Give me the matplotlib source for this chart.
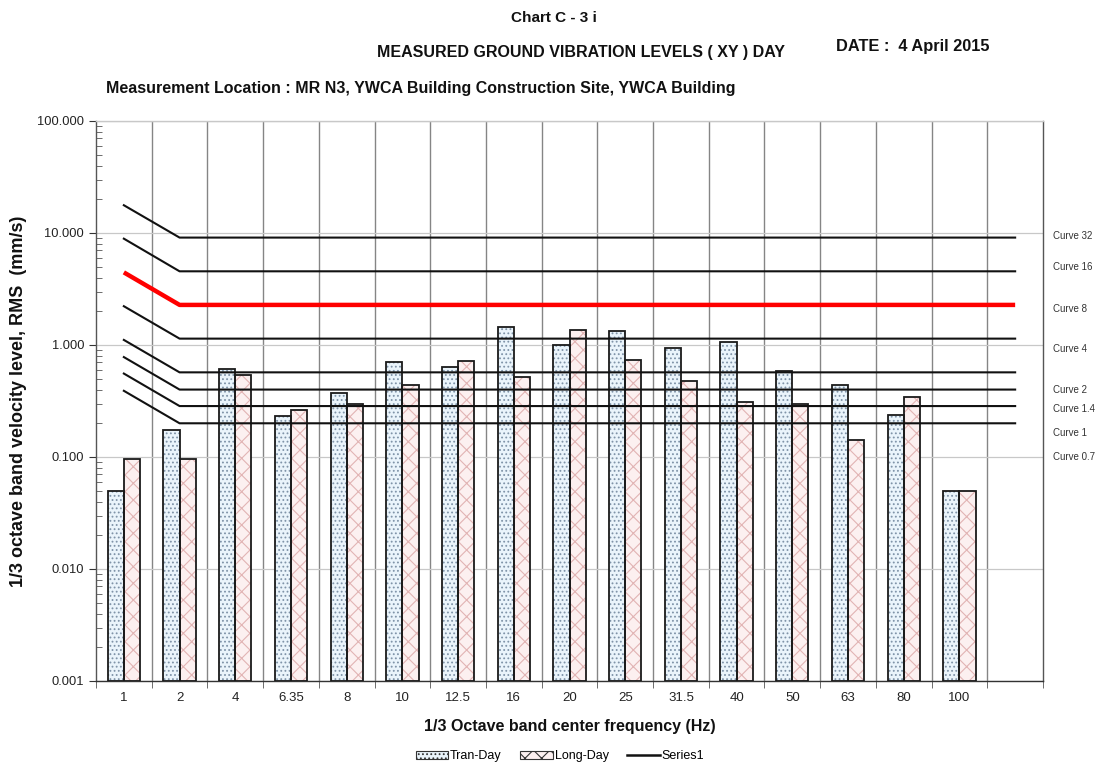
import numpy as np
import matplotlib
matplotlib.use("Agg")
import matplotlib.pyplot as plt
from matplotlib.patches import Patch
from matplotlib.lines import Line2D
from matplotlib.ticker import LogLocator, FixedLocator, NullFormatter, FuncFormatter

plt.rcParams['font.family'] = ['Liberation Sans', 'DejaVu Sans']

# ---------------- data ----------------
categories = ["1", "2", "4", "6.35", "8", "10", "12.5", "16", "20", "25",
              "31.5", "40", "50", "63", "80", "100", ""]
tran_day = [0.050, 0.173, 0.607, 0.234, 0.373, 0.705, 0.637, 1.46, 0.99, 1.33,
            0.94, 1.07, 0.59, 0.437, 0.236, 0.050]
long_day = [0.095, 0.095, 0.536, 0.265, 0.299, 0.437, 0.72, 0.52, 1.35, 0.73,
            0.474, 0.312, 0.30, 0.141, 0.346, 0.050]

curve_names = ["Curve 32", "Curve 16", "Curve 8", "Curve 4", "Curve 2",
               "Curve 1.4", "Curve 1", "Curve 0.7"]
curve_start = [17.7, 8.9, 4.45, 2.22, 1.11, 0.78, 0.556, 0.39]   # at 1 Hz
curve_flat = [9.1, 4.55, 2.28, 1.14, 0.57, 0.40, 0.285, 0.20]    # 2 Hz and above
curve_x = [0, 1, 16]
curve_label_y = [9.4, 4.97, 2.1, 0.92, 0.40, 0.268, 0.164, 0.100]

y_ticks = [0.001, 0.01, 0.1, 1, 10, 100]

# ---------------- figure ----------------
fig = plt.figure(figsize=(11.02, 7.65), dpi=100)
ax = fig.add_axes([96/1102, 1-681/765, (1043-96)/1102, (681-121)/765])
ax.set_yscale('log')
ax.set_ylim(0.001, 100)
ax.set_xlim(-0.5, len(categories)-0.5)

x = np.arange(len(tran_day))
w = 0.29
bottom = 0.001
tran = np.array(tran_day)
lng = np.array(long_day)

blue_fill = '#eaf4fb'
blue_hatch = '#7f93a8'
pink_fill = '#fcf0f0'
pink_hatch = '#e2b4b4'

# gridlines
for b in np.arange(0.5, len(categories)-1, 1.0):
    ax.axvline(b, color='#858585', lw=1.0, zorder=0.5)
for yt in y_ticks:
    ax.axhline(yt, color='#c8c8c8', lw=0.9, zorder=0.5)

plt.rcParams['hatch.linewidth'] = 0.8
ax.bar(x - w/2, tran - bottom, bottom=bottom, width=w, color=blue_fill,
       edgecolor=blue_hatch, hatch='....', lw=0, zorder=2)
ax.bar(x - w/2, tran - bottom, bottom=bottom, width=w, facecolor='none',
       edgecolor='#1a1a1a', lw=1.3, zorder=3)
ax.bar(x + w/2, lng - bottom, bottom=bottom, width=w, color=pink_fill,
       edgecolor=pink_hatch, hatch='xx', lw=0, zorder=2)
ax.bar(x + w/2, lng - bottom, bottom=bottom, width=w, facecolor='none',
       edgecolor='#1a1a1a', lw=1.3, zorder=3)

# criteria curves
for name, s, f in zip(curve_names, curve_start, curve_flat):
    if name == "Curve 8":
        ax.plot(curve_x, [s, f, f], color='#ff0000', lw=3.2, zorder=4,
                solid_capstyle='butt')
    else:
        ax.plot(curve_x, [s, f, f], color='#111111', lw=1.5, zorder=4)

for name, ly in zip(curve_names, curve_label_y):
    ax.text(1.0105, ly, name, transform=ax.get_yaxis_transform(),
            fontsize=7, color='#333333', va='center', ha='left')

# axes styling
ax.set_yticks(y_ticks)
ax.yaxis.set_major_formatter(FuncFormatter(lambda v, p: f"{v:.3f}"))
ax.yaxis.set_minor_locator(LogLocator(base=10, subs=np.arange(2, 10)))
ax.yaxis.set_minor_formatter(NullFormatter())
ax.tick_params(axis='y', which='major', direction='out', length=5,
               labelsize=9.3, colors='#333333', labelcolor='#222222')
ax.tick_params(axis='y', which='minor', direction='in', length=4,
               color='#555555')

ax.set_xticks(np.arange(len(categories)))
ax.set_xticklabels(categories)
ax.xaxis.set_minor_locator(FixedLocator(np.arange(-0.5, len(categories), 1.0)))
ax.tick_params(axis='x', which='major', length=0, labelsize=9.5,
               labelcolor='#222222', pad=8)
ax.tick_params(axis='x', which='minor', direction='out', length=5,
               color='#555555')

ax.spines['top'].set_color('#c8c8c8')
ax.spines['right'].set_color('#555555')
ax.spines['left'].set_color('#555555')
ax.spines['bottom'].set_color('#333333')
for sp in ax.spines.values():
    sp.set_linewidth(1.0)

ax.set_xlabel("1/3 Octave band center frequency (Hz)", fontsize=11.5,
              fontweight='bold', labelpad=11, color='#111111')
ax.set_ylabel("1/3 octave band velocity level, RMS  (mm/s)", fontsize=13,
              fontweight='bold', labelpad=7, color='#111111')

# titles
fig.text(554/1102, 1-18/765, "Chart C - 3 i", ha='center', va='center',
         fontsize=11, fontweight='bold', color='#111111')
fig.text(581/1102, 1-52/765, "MEASURED GROUND VIBRATION LEVELS ( XY ) DAY",
         ha='center', va='center', fontsize=11.5, fontweight='bold', color='#111111')
fig.text(836/1102, 1-47/765, "DATE :  4 April 2015", ha='left', va='center',
         fontsize=11.8, fontweight='bold', color='#111111')
fig.text(106/1102, 1-89/765,
         "Measurement Location : MR N3, YWCA Building Construction Site, YWCA Building",
         ha='left', va='center', fontsize=11.5, fontweight='bold', color='#111111')

# legend
handles = [
    Patch(facecolor=blue_fill, edgecolor='#333333', hatch='....', lw=0.8),
    Patch(facecolor=pink_fill, edgecolor='#333333', hatch='xx', lw=0.8),
    Line2D([0], [0], color='#111111', lw=1.8),
]
fig.legend(handles, ["Tran-Day", "Long-Day", "Series1"], loc='center',
           bbox_to_anchor=(560/1102, 1-756/765), ncol=3, frameon=False,
           fontsize=9, handlelength=2.6, handleheight=0.6, columnspacing=1.5,
           handletextpad=0.15)

fig.savefig("out.png", dpi=100)
